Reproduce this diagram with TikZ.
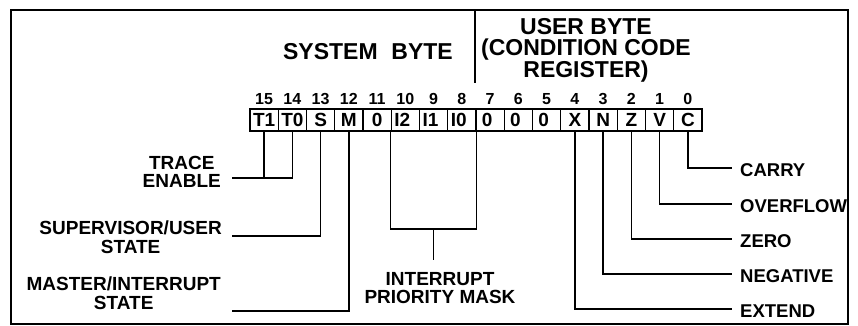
\documentclass[tikz,border=0pt]{standalone}
\usepackage{fontspec}
\setmainfont{Liberation Sans}
\begin{document}
\begin{tikzpicture}[x=1pt,y=-1pt,
  conn/.style={line width=1.4pt},
  frame/.style={line width=1.6pt},
  bitbox/.style={draw,line width=1.3pt,minimum width=28.25pt,minimum height=22pt,inner sep=0pt,font=\fontsize{19}{19}\selectfont\bfseries},
  bitnum/.style={inner sep=0pt,font=\fontsize{16}{16}\selectfont\bfseries},
  lbl/.style={inner sep=0pt,align=center,font=\fontsize{19}{18.5}\selectfont\bfseries},
  rlbl/.style={inner sep=0pt,anchor=west,font=\fontsize{18.5}{18.5}\selectfont\bfseries},
  head/.style={inner sep=0pt,align=center,font=\fontsize{23}{21.5}\selectfont\bfseries}]
\useasboundingbox (0,0) rectangle (858,326);
\draw[frame] (11,10) rectangle (848,324);
% header
\node[head,anchor=east] (sys) at (453,52) {SYSTEM\hspace{0.6em}BYTE};
\coordinate (dvt) at (475,11);
\coordinate (dvb) at (475,83);
\draw[conn] (dvt) -- (dvb);
\node[head] (usr) at (586,50) {USER BYTE\\(CONDITION CODE\\REGISTER)};
% register boxes
\foreach \b/\t/\s in {15/T1/0,14/T0/0,13/S/0,12/M/0,11/0/0,10/I2/-6,9/I1/-6,8/I0/-6,7/0/-6,6/0/-6,5/0/-6,4/X/0,3/N/0,2/Z/0,1/V/0,0/C/0}{
  \node[bitbox] (b\b) at ({264.125+28.25*(15-\b)},120) {\hspace*{\s pt}\t};
  \node[bitnum] (n\b) at ({264.125+28.25*(15-\b)},99) {\b};
}
% left labels
\node[lbl,anchor=east] (tr) at (221,172) {TRACE\\ENABLE};
\node[lbl,anchor=east] (sv) at (222,237) {SUPERVISOR/USER\\STATE};
\node[lbl,anchor=east] (ms) at (221,293) {MASTER/INTERRUPT\\STATE};
\coordinate (te) at (232,178);
\draw[conn] (b15.south) -- (b15.south |- te);
\draw[conn] (b14.south) |- (te);
\coordinate (su) at (232,236);
\draw[conn] (b13.south) |- (su);
\coordinate (mi) at (232,311);
\draw[conn] (b12.south) |- (mi);
% interrupt priority mask
\coordinate (ipm) at (433.25,229);
\coordinate (ipmend) at (433.25,260);
\draw[conn] (b10.south west) |- (ipm) -| (b8.south east);
\draw[conn] (ipm) -- (ipmend);
\node[lbl] (ipml) at (440,288) {INTERRUPT\\PRIORITY MASK};
% right labels
\coordinate (cy) at (732,168);
\coordinate (ov) at (732,204);
\coordinate (zr) at (732,239);
\coordinate (ng) at (732,274);
\coordinate (ex) at (732,309);
\draw[conn] (b0.south) |- (cy);
\draw[conn] (b1.south) |- (ov);
\draw[conn] (b2.south) |- (zr);
\draw[conn] (b3.south) |- (ng);
\draw[conn] (b4.south) |- (ex);
\node[rlbl] (cyl) at (740,170) {CARRY};
\node[rlbl] (ovl) at (740,206) {OVERFLOW};
\node[rlbl] (zrl) at (740,241) {ZERO};
\node[rlbl] (ngl) at (740,276) {NEGATIVE};
\node[rlbl] (exl) at (740,311) {EXTEND};
\end{tikzpicture}
\end{document}
